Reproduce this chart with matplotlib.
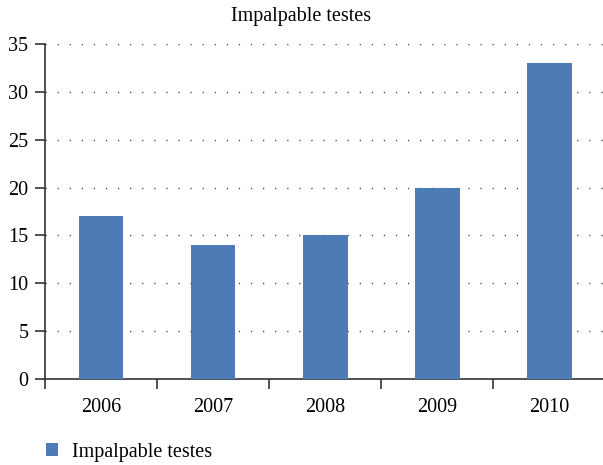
import numpy as np
import matplotlib
matplotlib.use("Agg")
import matplotlib.pyplot as plt

years = ["2006", "2007", "2008", "2009", "2010"]
counts = [17, 14, 15, 20, 33]
series_name = "Impalpable testes"

plt.rcParams["font.family"] = ["Liberation Serif", "DejaVu Serif"]
plt.rcParams["lines.scale_dashes"] = False

fig = plt.figure(figsize=(6.03, 4.65), dpi=100)
ax = fig.add_axes([45 / 603, 1 - 379 / 465, 558 / 603, 335 / 465])

x = np.arange(len(years))
ax.bar(x, counts, width=0.4, color="#4d7bb5", label=series_name, zorder=3)

ax.set_xlim(-0.5, len(years) - 0.52)
ax.set_ylim(0, 35)
ax.set_yticks(np.arange(0, 36, 5))
ax.yaxis.grid(True, linestyle=(0, (0.9, 7.8)), color="#444444", linewidth=1.0)
ax.set_axisbelow(True)

# category boundary ticks, labels at centres
ax.set_xticks(np.arange(-0.5, len(years) - 0.5, 1.0))
ax.set_xticklabels([])
ax.set_xticks(x, minor=True)
ax.set_xticklabels(years, minor=True)
ax.tick_params(axis="x", which="major", direction="out", length=7, width=1.2, color="#333333")
ax.tick_params(axis="x", which="minor", length=0, pad=14, labelsize=14.5)
ax.tick_params(axis="y", direction="out", length=7, width=1.2, color="#333333", labelsize=14.5, pad=5)

for side in ["top", "right"]:
    ax.spines[side].set_visible(False)
for side in ["left", "bottom"]:
    ax.spines[side].set_linewidth(1.2)
    ax.spines[side].set_color("#333333")

fig.text(0.5, 1 - 17 / 465, series_name, ha="center", va="center", fontsize=14.5)

fig.legend(loc="center left", bbox_to_anchor=(46 / 603, 1 - 452 / 465), frameon=False,
           borderaxespad=0, borderpad=0,
           fontsize=14.5, handlelength=0.6, handleheight=0.6, handletextpad=0.7)

fig.savefig("out.png", dpi=100)
